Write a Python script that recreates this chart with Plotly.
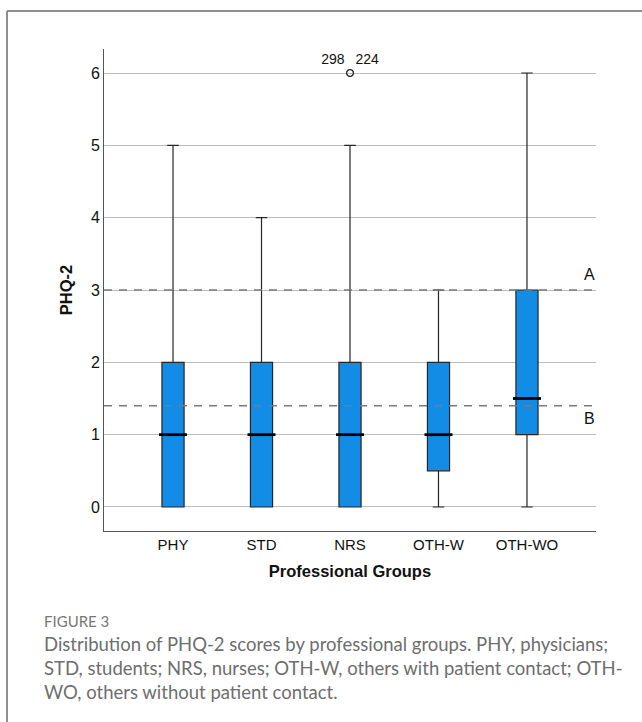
import plotly.graph_objects as go

groups = ["PHY", "STD", "NRS", "OTH-W", "OTH-WO"]
q_min = [0, 0, 0, 0, 0]
q1 = [0, 0, 0, 0.5, 1]
median = [1, 1, 1, 1, 1.5]
q3 = [2, 2, 2, 2, 3]
q_max = [5, 4, 5, 3, 6]

outlier_group = ["NRS", "NRS"]
outlier_value = [6, 6]
outlier_ids = ["298", "224"]

ref_values = [3, 1.4]
ref_labels = ["A", "B"]

y_ticks = [0, 1, 2, 3, 4, 5, 6]

W, H = 642, 722
L, R, T, B = 104, 46, 49, 191
pw = W - L - R
ph = H - T - B


def px_x(px):
    return (px - L) / pw


def px_y(py):
    return (T + ph - py) / ph


fig = go.Figure()

fig.add_trace(go.Box(
    x=groups, q1=q1, median=median, q3=q3,
    lowerfence=q_min, upperfence=q_max,
    fillcolor="#138ce6",
    line=dict(color="#262626", width=1.2),
    whiskerwidth=0.52,
    width=0.25,
    boxpoints=False,
    hoverinfo="skip",
    showlegend=False,
))

# thicker median lines
fig.add_trace(go.Scatter(
    x=groups, y=median, mode="markers",
    marker=dict(symbol="line-ew", size=20, line=dict(color="black", width=2.8)),
    hoverinfo="skip", showlegend=False,
))

# outlier
fig.add_trace(go.Scatter(
    x=outlier_group, y=outlier_value, mode="markers+text",
    marker=dict(symbol="circle-open", size=7, color="#222222", line=dict(width=1)),
    text=outlier_ids, textposition=["top left", "top right"],
    textfont=dict(family="Liberation Sans, Arial", size=14, color="#111111"),
    hoverinfo="skip", showlegend=False,
))

for v, lab in zip(ref_values, ref_labels):
    fig.add_hline(y=v, line=dict(color="#7a7a7a", width=1.5, dash="8px,7px"), layer="above")
    fig.add_annotation(
        x=px_x(589), xref="paper", y=v, yref="y", text=lab, showarrow=False,
        yshift=16 if lab == "A" else -13,
        font=dict(family="Liberation Sans, Arial", size=16, color="#111111"),
        xanchor="center",
    )

# outer frame (left and top edges)
fig.add_shape(type="line", xref="paper", yref="paper",
              x0=px_x(7), x1=px_x(7), y0=px_y(H + 10), y1=px_y(11),
              line=dict(color="#8f8f8f", width=2))
fig.add_shape(type="line", xref="paper", yref="paper",
              x0=px_x(7), x1=px_x(W + 10), y0=px_y(11), y1=px_y(11),
              line=dict(color="#8f8f8f", width=2))

cap_font = "Lato, Open Sans, sans-serif"
fig.add_annotation(x=px_x(42), xref="paper", y=px_y(621), yref="paper",
                   text="FIGURE 3", showarrow=False, xanchor="left", yanchor="middle",
                   font=dict(family=cap_font, size=15, color="#777777"))
caption = ("Distribution of PHQ-2 scores by professional groups. PHY, physicians;<br>"
           "STD, students; NRS, nurses; OTH-W, others with patient contact; OTH-<br>"
           "WO, others without patient contact.")
fig.add_annotation(x=px_x(42), xref="paper", y=px_y(668), yref="paper",
                   text=caption, showarrow=False, xanchor="left", yanchor="middle", align="left",
                   font=dict(family=cap_font, size=18.5, color="#6e6e6e"))

fig.update_layout(
    width=W, height=H,
    margin=dict(l=L, r=R, t=T, b=B),
    paper_bgcolor="white", plot_bgcolor="white",
    font=dict(family="Liberation Sans, Arial", size=15, color="#111111"),
    xaxis=dict(
        categoryorder="array", categoryarray=groups,
        range=[-0.78, 4.78],
        showgrid=False, showline=True, linecolor="#555555", linewidth=1,
        ticks="", tickfont=dict(size=15),
        title=dict(text="<b>Professional Groups</b>", font=dict(size=16.5), standoff=13),
        zeroline=False, fixedrange=True,
    ),
    yaxis=dict(
        range=[-0.332, 6.332],
        tickvals=y_ticks,
        showgrid=True, gridcolor="#bdbdbd", gridwidth=1,
        showline=True, linecolor="#555555", linewidth=1,
        ticks="", tickfont=dict(size=16),
        title=dict(text="<b>PHQ-2</b>", font=dict(size=16.5), standoff=14),
        zeroline=False, fixedrange=True,
    ),
)

fig.write_html("out.html", config={"displayModeBar": False},
               post_script="document.body.style.margin='0px';document.body.style.overflow='hidden';")
